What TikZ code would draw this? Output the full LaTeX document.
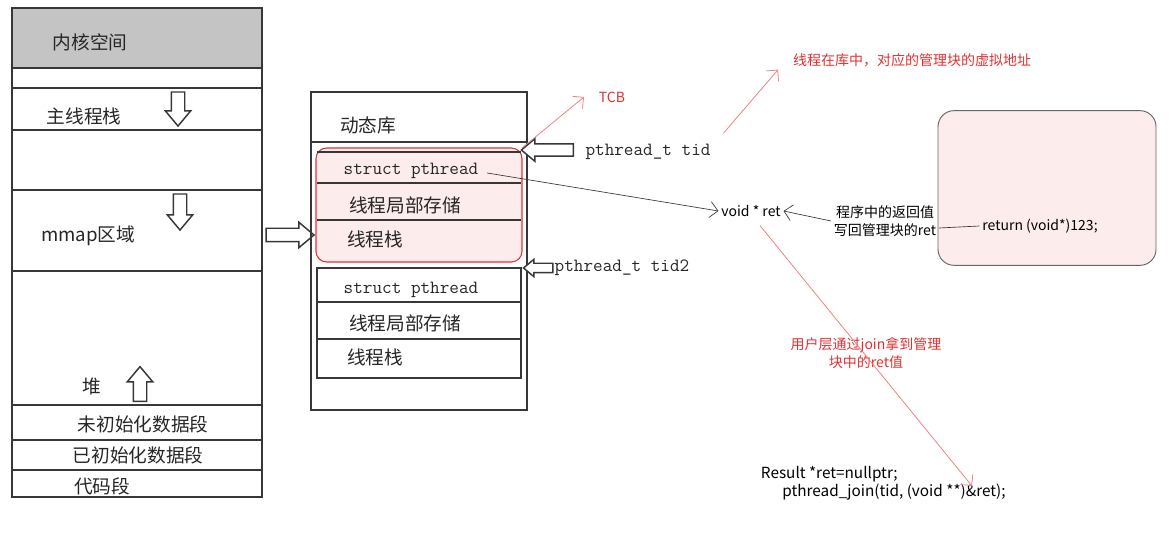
\documentclass[tikz,border=0pt]{standalone}
\usepackage{fontspec}
\setmainfont{Noto Sans CJK SC}
\usepackage{xcolor}
\usetikzlibrary{arrows.meta, shapes.arrows, positioning, calc}

\definecolor{kernelgray}{RGB}{196,196,196}
\definecolor{tcbpink}{RGB}{253,236,236}
\definecolor{tcbred}{RGB}{224,49,49}
\definecolor{notered}{RGB}{238,130,130}
\definecolor{sketch}{RGB}{55,55,55}

\tikzset{
	region/.style={draw=sketch, line width=1.2pt},
	segtext/.style={font=\fontsize{14}{17}\selectfont, text=black!85, inner sep=2pt},
	monotext/.style={font=\ttfamily\fontsize{14}{16}\selectfont, text=black!85, inner sep=2pt},
	handtext/.style={font=\fontsize{10.5}{14}\selectfont, inner sep=2pt},
	rednote/.style={font=\fontsize{10.5}{14}\selectfont, text=tcbred, align=center, inner sep=2pt},
	hollowarrow/.style={single arrow, draw=sketch, fill=white, line width=1.1pt,
		inner xsep=0pt, inner ysep=4.5pt, single arrow head extend=4.5pt, single arrow tip angle=80},
	redarrow/.style={draw=notered, line width=0.6pt, -{Straight Barb[length=6pt]}},
	grayarrow/.style={draw=sketch, line width=0.5pt, -{Straight Barb[length=6pt]}}
}

\begin{document}
\begin{tikzpicture}[x=0.75pt, y=-0.75pt]
	\useasboundingbox (0,0) rectangle (1169,534);
	
	% Process address space (left column)
	\fill[kernelgray] (12,8) rectangle (262,68);
	\draw[region] (12,8) rectangle (262,497);
	\foreach \y in {68, 88, 130, 190, 271, 405, 440, 470} {
		\draw[region] (12,\y) -- (262,\y);
	}
	\node[segtext] (kernel) at (90,42) {内核空间};
	\node[segtext] (mainstack) at (84,116) {主线程栈};
	\node[segtext] (mmap) at (88,236) {mmap区域};
	\node[segtext] (heap) at (92,386) {堆};
	\node[segtext] (bss) at (143,424) {未初始化数据段};
	\node[segtext] (data) at (138,455) {已初始化数据段};
	\node[segtext] (text) at (102,486) {代码段};
	
	% Growth direction arrows
	\node[hollowarrow, rotate=-90, minimum height=25.5pt] (stackgrow) at (178,105) {};
	\node[hollowarrow, rotate=-90, minimum height=27pt] (mmapgrow) at (180,208) {};
	\node[hollowarrow, rotate=90, minimum height=26pt] (heapgrow) at (140,388) {};
	
	% mmap region points to the shared library
	\node[hollowarrow, minimum height=36pt] (tolib) at (286,235) {};
	
	% Shared library (middle column)
	\draw[region] (311,92) rectangle (527,410);
	\draw[region] (311,142) -- (527,142);
	\node[segtext] (lib) at (368,125) {动态库};
	
	% First thread control block (TCB)
	\draw[draw=tcbred, fill=tcbpink, line width=0.8pt, rounded corners=8pt] (316,148) rectangle (522,262);
	\draw[region] (317,152) -- (521,152);
	\foreach \y in {183, 220} {
		\draw[region] (317,\y) -- (521,\y);
	}
	\coordinate (tcbcorner) at (522,148);
	\node[monotext] (sp1) at (411,171) {struct pthread};
	\node[segtext] (tls1) at (405,205) {线程局部存储};
	\node[segtext] (stk1) at (375,239) {线程栈};
	
	% Second thread control block
	\draw[region] (317,268) rectangle (521,378);
	\foreach \y in {302, 339} {
		\draw[region] (317,\y) -- (521,\y);
	}
	\node[monotext] (sp2) at (411,290) {struct pthread};
	\node[segtext] (tls2) at (405,323) {线程局部存储};
	\node[segtext] (stk2) at (375,357) {线程栈};
	
	% Thread ids point at the control blocks
	\node[hollowarrow, rotate=180, minimum height=39pt, inner ysep=4pt, single arrow head extend=4pt] (tidarrow) at (551,150) {};
	\node[monotext] (tid) at (648,152) {pthread\_t tid};
	\node[hollowarrow, rotate=180, minimum height=22pt, inner ysep=3pt,
		single arrow head extend=3pt] (tid2arrow) at (541,268) {};
	\node[monotext] (tid2) at (622,268) {pthread\_t tid2};
	
	% Red annotations
	\node[rednote] (tcb) at (612,97) {TCB};
	\draw[redarrow] (tcbcorner) -- ($(tcb.west)+(-12,0)$);
	\node[rednote] (addr) at (912,60) {线程在库中，对应的管理块的虚拟地址};
	\draw[redarrow] ($(tid.north east)+(10,-8)$) -- ($(addr.south west)+(-12,0)$);
	
	% Return value slot
	\node[handtext] (ret) at (751,211) {void * ret};
	\draw[grayarrow] ($(sp1.east)+(6,2)$) -- (ret.west);
	
	% Thread function
	\node[draw=black!60, fill=tcbpink, line width=0.7pt, rounded corners=12pt,
		minimum width=163.5pt, minimum height=116pt] (threadfn) at (1047,188) {};
	\node[handtext] (retcode) at (1040,226) {return (void*)123;};
	\node[handtext, align=center] (retnote) at (885,221) {程序中的返回值\\写回管理块的ret};
	\draw[grayarrow] (retnote.west) -- (ret.east);
	\draw[draw=sketch, line width=0.5pt] ($(retnote.east)+(0,7)$) -- (retcode.west);
	
	% Joining thread reads the return value
	\node[rednote] (joinnote) at (866,353) {用户层通过join拿到管理\\块中的ret值};
	\node[handtext, font=\fontsize{11.5}{14}\selectfont, align=left, anchor=north west] (joincode) at (758,463)
		{Result *ret=nullptr;\\\hspace*{16pt}pthread\_join(tid, (void **)\&ret);};
	\coordinate (joinhit) at (972,486);
	\draw[redarrow] ($(ret.south)+(9,6)$) -- (joinhit);
	
\end{tikzpicture}
\end{document}
